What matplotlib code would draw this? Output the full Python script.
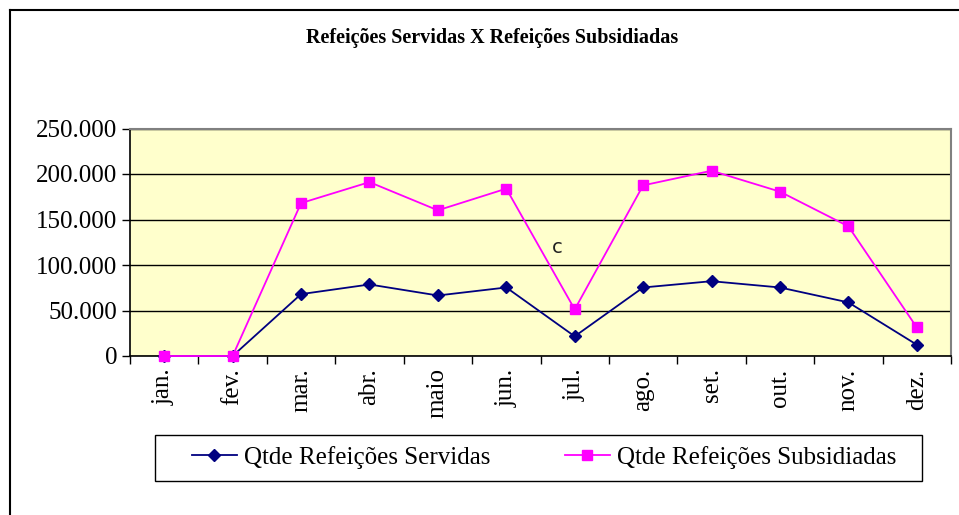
import matplotlib
matplotlib.use("Agg")
import matplotlib.pyplot as plt
from matplotlib.ticker import FuncFormatter, FixedLocator, NullFormatter
from matplotlib.patches import Rectangle
from matplotlib.lines import Line2D

months = ["jan.", "fev.", "mar.", "abr.", "maio", "jun.", "jul.", "ago.", "set.", "out.", "nov.", "dez."]
servidas = [0, 0, 68000, 78600, 66500, 75300, 21600, 75300, 82200, 75300, 58900, 12400]
subsidiadas = [0, 0, 168000, 191100, 160100, 183900, 51200, 187500, 203600, 180600, 142500, 31400]
title = "Refeições Servidas X Refeições Subsidiadas"
label_serv = "Qtde Refeições Servidas"
label_sub = "Qtde Refeições Subsidiadas"
y_ticks = [0, 50000, 100000, 150000, 200000, 250000]

serif = "Liberation Serif"
W, H = 959, 515
fig = plt.figure(figsize=(W / 100, H / 100), dpi=100)
fig.patch.set_facecolor("white")

# outer chart border (left and top visible)
fig.add_artist(Line2D([9.5 / W, 9.5 / W], [0, 1 - 10 / H], transform=fig.transFigure, color="black", lw=1.5))
fig.add_artist(Line2D([9.5 / W, 1], [1 - 10 / H, 1 - 10 / H], transform=fig.transFigure, color="black", lw=1.5))

left, right, top, bottom = 130, 951, 128.5, 356
ax = fig.add_axes([left / W, 1 - bottom / H, (right - left) / W, (bottom - top) / H])
ax.set_facecolor("#FFFFCC")

x = list(range(len(months)))
ax.plot(x, servidas, color="#000080", lw=1.3, marker="D", markersize=6.5, label=label_serv, zorder=3, clip_on=False)
ax.plot(x, subsidiadas, color="#FF00FF", lw=1.3, marker="s", markersize=7, label=label_sub, zorder=4, clip_on=False)

ax.set_xlim(-0.5, len(months) - 0.5)
ax.set_ylim(0, 250000)
ax.set_yticks(y_ticks)
ax.yaxis.set_major_formatter(FuncFormatter(lambda v, p: "0" if v == 0 else f"{int(v):,}".replace(",", ".")))
ax.grid(axis="y", color="black", lw=1.0, zorder=1)
ax.set_axisbelow(True)

ax.xaxis.set_major_locator(FixedLocator([i - 0.5 for i in range(len(months) + 1)]))
ax.xaxis.set_major_formatter(NullFormatter())
ax.xaxis.set_minor_locator(FixedLocator(x))
ax.set_xticks(x, months, minor=True)
ax.tick_params(axis="x", which="minor", length=0, pad=9, labelrotation=90, labelsize=18)
ax.tick_params(axis="x", which="major", length=6, width=1, direction="out", color="black")
ax.tick_params(axis="y", length=6, width=1, direction="out", labelsize=18, pad=3)
for lab in ax.get_xticklabels(minor=True) + ax.get_yticklabels():
    lab.set_fontfamily(serif)

for s in ["top", "right"]:
    ax.spines[s].set_color("#808080")
    ax.spines[s].set_linewidth(1.5)
for s in ["left", "bottom"]:
    ax.spines[s].set_color("black")
    ax.spines[s].set_linewidth(1.2)

ax.text(6 - 0.25, 119000, "c", fontsize=14, family="DejaVu Sans", color="#222222", ha="center", va="center")

fig.text(492 / W, 1 - 38 / H, title, fontsize=14.5, fontweight="bold", family=serif, ha="center", va="center")

# legend
lx0, ly0, lx1, ly1 = 154.5, 434.5, 922, 481
leg = fig.legend(loc="center left", bbox_to_anchor=((lx0 + 37) / W, 1 - ((ly0 + ly1) / 2) / H),
                 ncol=2, frameon=False, prop={"family": serif, "size": 18},
                 handlelength=1.8, handletextpad=0.28, columnspacing=3.0, borderaxespad=0, borderpad=0)
fig.add_artist(Rectangle((lx0 / W, 1 - ly1 / H), (lx1 - lx0) / W, (ly1 - ly0) / H,
                         transform=fig.transFigure, fill=False, edgecolor="black", lw=1.0))

fig.savefig("out.png", dpi=100)
